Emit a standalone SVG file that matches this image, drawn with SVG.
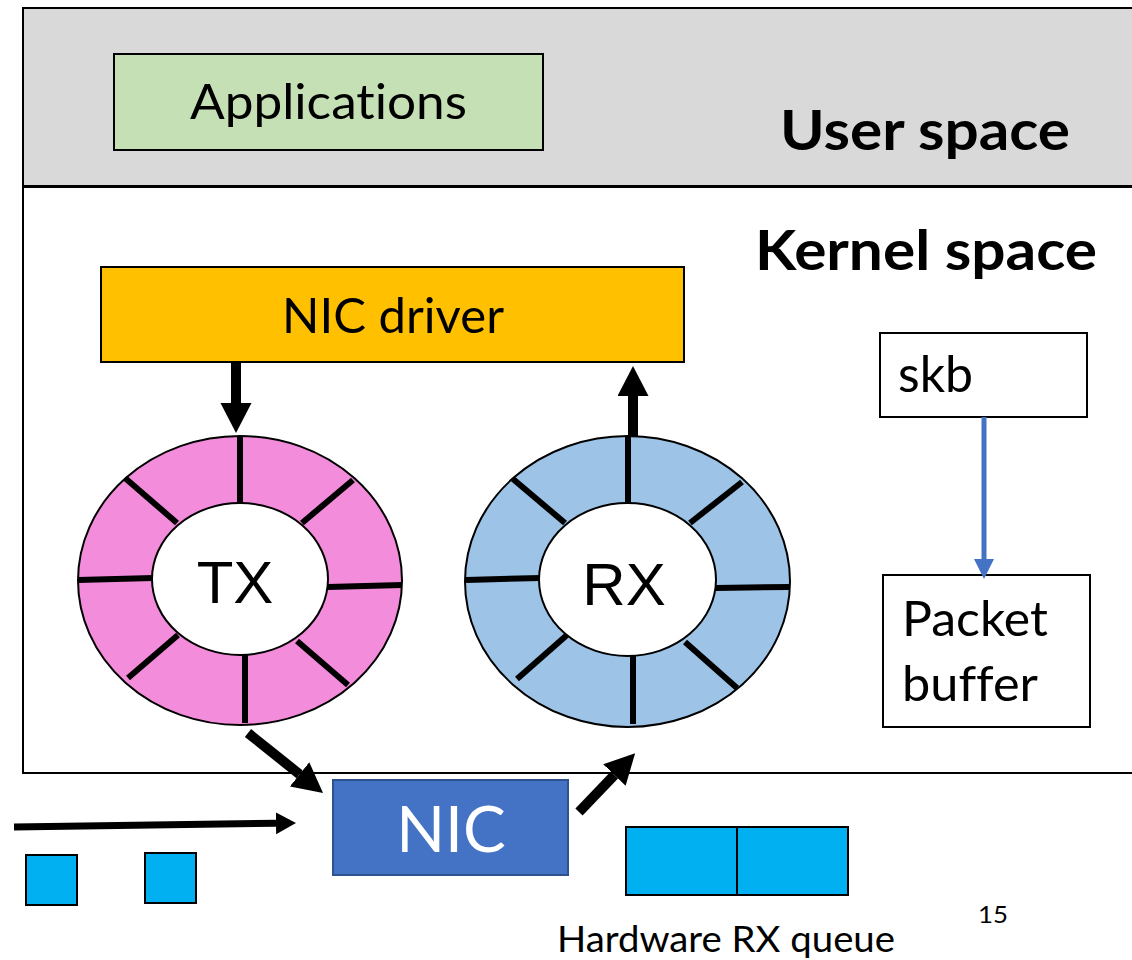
<svg xmlns="http://www.w3.org/2000/svg" width="1132" height="960" viewBox="0 0 1132 960">
  <style>
    .lbl { font-family: Lato, "Open Sans", "Liberation Sans", sans-serif; fill: #000; font-variant-ligatures: none; }
    .bold { font-weight: bold; }
    .ringtxt { font-family: "Liberation Sans", Arial, sans-serif; fill: #000; font-size: 60px; text-anchor: middle; }
    .box { stroke: #000; stroke-width: 2; }
    .spoke { stroke: #000; stroke-width: 6; }
    .ring-edge { stroke: #000; stroke-width: 2; }
    .pkt { fill: #00b0f0; stroke: #000; stroke-width: 2; }
    .thick { stroke: #000; stroke-width: 10; fill: none; }
  </style>
  <defs>
    <marker id="headBig" markerUnits="userSpaceOnUse" markerWidth="32" markerHeight="32" refX="0" refY="15.5" orient="auto">
      <path d="M0,0 L30,15.5 L0,31 z" fill="#000"/>
    </marker>
    <marker id="headSmall" markerUnits="userSpaceOnUse" markerWidth="22" markerHeight="24" refX="0" refY="11" orient="auto">
      <path d="M0,0 L20,11 L0,22 z" fill="#000"/>
    </marker>
    <marker id="headBlue" markerUnits="userSpaceOnUse" markerWidth="22" markerHeight="22" refX="0" refY="10" orient="auto">
      <path d="M0,0 L20,10 L0,20 z" fill="#4472c4"/>
    </marker>
  </defs>

  <rect width="1132" height="960" fill="#fff"/>

  <!-- user space band -->
  <g id="user-space">
    <rect x="23" y="8" width="1120" height="178" fill="#d9d9d9" class="box"/>
    <text x="780" y="150" class="lbl bold" font-size="56" textLength="290" lengthAdjust="spacingAndGlyphs">User space</text>
  </g>

  <!-- kernel space band -->
  <g id="kernel-space">
    <rect x="23" y="187" width="1120" height="586" fill="#fff" class="box"/>
    <text x="755" y="270" class="lbl bold" font-size="56" textLength="342" lengthAdjust="spacingAndGlyphs">Kernel space</text>
  </g>

  <g id="applications">
    <rect x="114" y="54" width="429" height="96" fill="#c5e0b4" class="box"/>
    <text x="190" y="119" class="lbl" font-size="49" textLength="277" lengthAdjust="spacingAndGlyphs">Applications</text>
  </g>

  <g id="nic-driver">
    <rect x="101" y="267" width="583" height="95" fill="#ffc000" class="box"/>
    <text x="282" y="333" class="lbl" font-size="48" textLength="222" lengthAdjust="spacingAndGlyphs">NIC driver</text>
  </g>

  <g id="tx-ring">
    <ellipse cx="240" cy="580.5" rx="162" ry="144.5" fill="#f48cdc" class="ring-edge"/>
    <line x1="240" y1="436" x2="240" y2="504" class="spoke"/>
    <line x1="353" y1="480" x2="302" y2="523" class="spoke"/>
    <line x1="328" y1="587" x2="402" y2="585" class="spoke"/>
    <line x1="297" y1="641" x2="348" y2="685" class="spoke"/>
    <line x1="245" y1="655" x2="245" y2="723" class="spoke"/>
    <line x1="178" y1="635" x2="128" y2="678" class="spoke"/>
    <line x1="78" y1="580" x2="153" y2="578" class="spoke"/>
    <line x1="125" y1="478" x2="177" y2="523" class="spoke"/>
    <ellipse cx="240" cy="579" rx="88" ry="76" fill="#fff" class="ring-edge"/>
    <text x="235" y="603" class="ringtxt">TX</text>
  </g>

  <g id="rx-ring">
    <ellipse cx="627.5" cy="581.5" rx="162.5" ry="145.5" fill="#9dc3e6" class="ring-edge"/>
    <line x1="628" y1="437" x2="628" y2="504" class="spoke"/>
    <line x1="742" y1="482" x2="690" y2="523" class="spoke"/>
    <line x1="716" y1="588" x2="789" y2="587" class="spoke"/>
    <line x1="685" y1="642" x2="737" y2="688" class="spoke"/>
    <line x1="633" y1="655" x2="633" y2="724" class="spoke"/>
    <line x1="567" y1="635" x2="517" y2="679" class="spoke"/>
    <line x1="466" y1="580" x2="540" y2="578" class="spoke"/>
    <line x1="513" y1="479" x2="565" y2="523" class="spoke"/>
    <ellipse cx="627.5" cy="579.5" rx="88.5" ry="76.5" fill="#fff" class="ring-edge"/>
    <text x="624" y="605" class="ringtxt">RX</text>
  </g>

  <g id="skb">
    <rect x="880" y="333" width="207" height="84" fill="#fff" class="box"/>
    <text x="898" y="392" class="lbl" font-size="50">skb</text>
  </g>

  <g id="packet-buffer">
    <rect x="883" y="575" width="207" height="152" fill="#fff" class="box"/>
    <text x="902" y="636" class="lbl" font-size="49" textLength="146" lengthAdjust="spacingAndGlyphs">Packet</text>
    <text x="902" y="701" class="lbl" font-size="49" textLength="136" lengthAdjust="spacingAndGlyphs">buffer</text>
  </g>

  <g id="nic">
    <rect x="333" y="780" width="235" height="95" fill="#4472c4" stroke="#2f528f" stroke-width="2"/>
    <text x="451" y="852" class="lbl" font-size="64" text-anchor="middle" style="fill:#fff">NIC</text>
  </g>

  <g id="incoming-packets">
    <rect x="26" y="855" width="51" height="50" class="pkt"/>
    <rect x="145" y="853" width="51" height="50" class="pkt"/>
  </g>

  <g id="hardware-rx-queue">
    <rect x="626" y="827" width="111" height="68" class="pkt"/>
    <rect x="737" y="827" width="111" height="68" class="pkt"/>
    <text x="557" y="952" class="lbl" font-size="36" textLength="338" lengthAdjust="spacingAndGlyphs">Hardware RX queue</text>
  </g>

  <g id="page-number">
    <text x="978" y="923" class="lbl" font-size="24" textLength="30" lengthAdjust="spacingAndGlyphs">15</text>
  </g>

  <!-- connectors -->
  <g id="connectors">
    <line x1="236" y1="362" x2="236" y2="403" class="thick" marker-end="url(#headBig)"/>
    <line x1="633" y1="437" x2="633" y2="396" class="thick" marker-end="url(#headBig)"/>
    <line x1="248" y1="733" x2="299.6" y2="774.3" class="thick" marker-end="url(#headBig)"/>
    <line x1="579" y1="812" x2="614.4" y2="775" class="thick" marker-end="url(#headBig)"/>
    <line x1="14" y1="827" x2="276" y2="823.3" stroke="#000" stroke-width="7" marker-end="url(#headSmall)"/>
    <line x1="984" y1="417" x2="984" y2="559" stroke="#4472c4" stroke-width="5" marker-end="url(#headBlue)"/>
  </g>
</svg>
